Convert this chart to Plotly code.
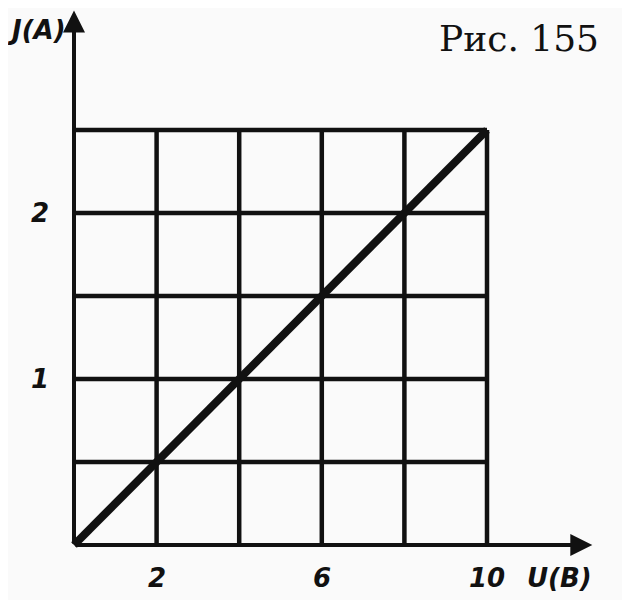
import plotly.graph_objects as go

# data
u_values = [0, 10]          # U (B)
j_values = [0, 2.5]         # J (A)
x_grid = [0, 2, 4, 6, 8, 10]
y_grid = [0, 0.5, 1.0, 1.5, 2.0, 2.5]
x_tick_vals = [2, 6, 10]
x_tick_text = ["2", "6", "10"]
y_tick_vals = [1, 2]
y_tick_text = ["1", "2"]

ink = "#111111"
fig = go.Figure()

# grid
gx, gy = [], []
for xv in x_grid[1:]:
    gx += [xv, xv, None]
    gy += [y_grid[0], y_grid[-1], None]
for yv in y_grid[1:]:
    gx += [x_grid[0], x_grid[-1], None]
    gy += [yv, yv, None]
fig.add_trace(go.Scatter(x=gx, y=gy, mode="lines", line=dict(color=ink, width=4.5),
                         hoverinfo="skip", showlegend=False))

# main line
fig.add_trace(go.Scatter(x=u_values, y=j_values, mode="lines",
                         line=dict(color=ink, width=8), showlegend=False))

# axes with arrows
fig.add_annotation(x=12.55, y=0, ax=0, ay=0, xref="x", yref="y", axref="x", ayref="y",
                   showarrow=True, arrowhead=2, arrowsize=1.1, arrowwidth=4, arrowcolor=ink, text="")
fig.add_annotation(x=0, y=3.22, ax=0, ay=0, xref="x", yref="y", axref="x", ayref="y",
                   showarrow=True, arrowhead=2, arrowsize=1.1, arrowwidth=4, arrowcolor=ink, text="")

lab_font = dict(family="DejaVu Sans, sans-serif", size=26, color=ink)
for v, t in zip(x_tick_vals, x_tick_text):
    fig.add_annotation(x=v, y=-0.2, xref="x", yref="y", text=f"<i><b>{t}</b></i>",
                       showarrow=False, font=lab_font)
for v, t in zip(y_tick_vals, y_tick_text):
    fig.add_annotation(x=-0.82, y=v, xref="x", yref="y", text=f"<i><b>{t}</b></i>",
                       showarrow=False, font=lab_font)

fig.add_annotation(x=11.75, y=-0.2, xref="x", yref="y", text="<i><b>U(B)</b></i>",
                   showarrow=False, font=lab_font)
fig.add_annotation(x=-0.9, y=3.1, xref="x", yref="y", text="<i><b>J(A)</b></i>",
                   showarrow=False, font=lab_font)
fig.add_annotation(x=10.77, y=3.05, xref="x", yref="y", text="Рис. 155",
                   showarrow=False, font=dict(family="DejaVu Serif, serif", size=36, color=ink))

fig.update_layout(
    width=630, height=600,
    margin=dict(l=0, r=0, t=0, b=0),
    paper_bgcolor="#fafafa", plot_bgcolor="#fafafa",
    xaxis=dict(range=[-1.598, 13.656], visible=False, fixedrange=True),
    yaxis=dict(range=[-0.3795, 3.235], visible=False, fixedrange=True),
    showlegend=False,
)

fig.write_html("out.html")
